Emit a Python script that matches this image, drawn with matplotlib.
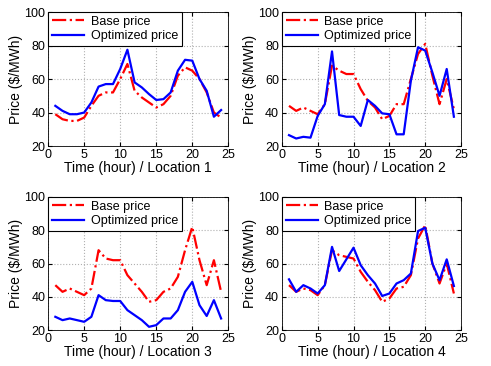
import numpy as np
import matplotlib.pyplot as plt

plt.rcParams['font.family'] = ['Liberation Sans', 'DejaVu Sans']

hours = np.arange(1, 25)

base_1 = [39, 36, 35, 35, 37, 44, 50, 52, 52, 60, 69, 53, 49, 46, 43, 45, 50, 62, 67, 65, 60, 52, 40, 37]
opt_1 = [44, 41, 39, 39, 40, 46, 55.5, 57, 57, 66, 77.5, 58, 55, 51, 47.5, 48, 52, 65, 71.5, 71, 60, 53, 37.5, 41.5]

base_2 = [44, 41, 43, 41, 39, 45, 68, 65, 63, 63, 54, 47, 43, 36, 38, 45, 45, 60, 75, 81, 62, 45, 60, 42]
opt_2 = [26.5, 24.5, 25.5, 25, 38, 45, 76.5, 38.5, 37.5, 37.5, 32, 47.5, 44, 39.5, 39, 27, 27, 59, 79, 77, 64, 50, 66, 37.5]

base_3 = [47, 43, 45, 43, 41, 45, 68, 63, 62, 62, 53, 48, 43, 37, 38, 43, 45, 52, 68, 82, 62, 47, 62, 43]
opt_3 = [28, 26, 27, 26, 25, 28, 41, 38, 37.5, 37.5, 32, 29, 26, 22, 23, 27, 27, 32, 43, 49, 35, 28.5, 38, 27]

base_4 = [47, 43, 45, 44, 41, 47, 68, 65, 64, 63, 55, 49, 44, 37, 39, 45, 46, 53, 75, 83, 60, 48, 60, 42]
opt_4 = [50.5, 43, 47, 45, 42, 47, 70, 55.5, 62.5, 69.5, 59, 53, 48, 40.5, 42, 48, 50, 54, 79.5, 81.5, 60, 50, 62.5, 46.5]

bases = [base_1, base_2, base_3, base_4]
opts = [opt_1, opt_2, opt_3, opt_4]
locations = ['Location 1', 'Location 2', 'Location 3', 'Location 4']

fig = plt.figure(figsize=(4.91, 3.66), dpi=100)
positions = [
    [0.098, 0.601, 0.367, 0.366],
    [0.574, 0.601, 0.365, 0.366],
    [0.098, 0.098, 0.367, 0.364],
    [0.574, 0.098, 0.365, 0.364],
]

for i in range(4):
    ax = fig.add_axes(positions[i])
    ax.plot(hours, bases[i], color='r', linestyle='-.', linewidth=1.6, label='Base price')
    ax.plot(hours, opts[i], color='b', linestyle='-', linewidth=1.6, label='Optimized price')
    ax.set_xlim(0, 25)
    ax.set_ylim(20, 100)
    ax.set_xticks([0, 5, 10, 15, 20, 25])
    ax.set_yticks([20, 40, 60, 80, 100])
    ax.grid(True, linestyle=':', color='#b0b0b0', linewidth=0.8)
    ax.tick_params(direction='in', top=True, right=True, labelsize=9, length=3, pad=2)
    ax.set_xlabel('Time (hour) / ' + locations[i], fontsize=10, labelpad=0)
    ax.set_ylabel('Price ($/MWh)', fontsize=10, labelpad=1)
    for s in ax.spines.values():
        s.set_linewidth(0.6)
    leg = ax.legend(loc='upper left', fontsize=9, fancybox=False, framealpha=1,
                    edgecolor='black', borderaxespad=0, handlelength=2.6,
                    borderpad=0.3, labelspacing=0.2, handletextpad=0.5)
    leg.get_frame().set_linewidth(0.8)

fig.savefig('out.png', dpi=100)
